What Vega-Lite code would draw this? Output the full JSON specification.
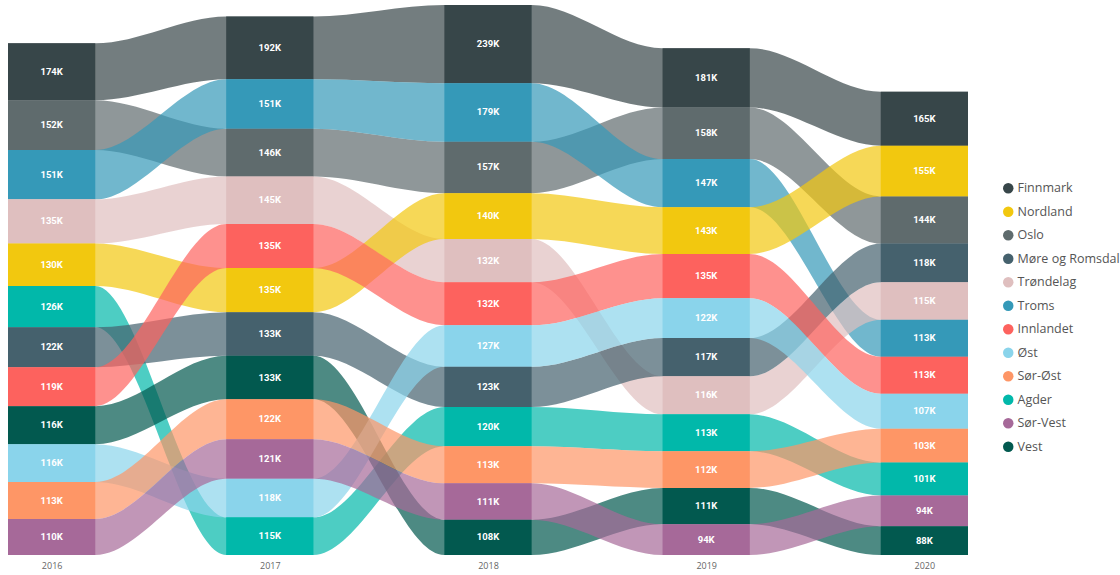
{
  "$schema": "https://vega.github.io/schema/vega-lite/v6.json",
  "width": 960,
  "height": 550,
  "autosize": {"type": "none"},
  "padding": {"left": 8, "top": 5, "right": 152, "bottom": 20},
  "background": "white",
  "config": {"view": {"stroke": null}, "font": "Open Sans"},
  "data": {
    "values": [
      {"year": 2016, "region": "Finnmark", "value": 174},
      {"year": 2016, "region": "Oslo", "value": 152},
      {"year": 2016, "region": "Troms", "value": 151},
      {"year": 2016, "region": "Trøndelag", "value": 135},
      {"year": 2016, "region": "Nordland", "value": 130},
      {"year": 2016, "region": "Agder", "value": 126},
      {"year": 2016, "region": "Møre og Romsdal", "value": 122},
      {"year": 2016, "region": "Innlandet", "value": 119},
      {"year": 2016, "region": "Vest", "value": 116.2},
      {"year": 2016, "region": "Øst", "value": 115.8},
      {"year": 2016, "region": "Sør-Øst", "value": 113},
      {"year": 2016, "region": "Sør-Vest", "value": 110},
      {"year": 2017, "region": "Finnmark", "value": 192},
      {"year": 2017, "region": "Troms", "value": 151},
      {"year": 2017, "region": "Oslo", "value": 146},
      {"year": 2017, "region": "Trøndelag", "value": 145},
      {"year": 2017, "region": "Innlandet", "value": 135.2},
      {"year": 2017, "region": "Nordland", "value": 134.8},
      {"year": 2017, "region": "Møre og Romsdal", "value": 133.2},
      {"year": 2017, "region": "Vest", "value": 132.8},
      {"year": 2017, "region": "Sør-Øst", "value": 122},
      {"year": 2017, "region": "Sør-Vest", "value": 121},
      {"year": 2017, "region": "Øst", "value": 118},
      {"year": 2017, "region": "Agder", "value": 115},
      {"year": 2018, "region": "Finnmark", "value": 239},
      {"year": 2018, "region": "Troms", "value": 179},
      {"year": 2018, "region": "Oslo", "value": 157},
      {"year": 2018, "region": "Nordland", "value": 140},
      {"year": 2018, "region": "Trøndelag", "value": 132.2},
      {"year": 2018, "region": "Innlandet", "value": 131.8},
      {"year": 2018, "region": "Øst", "value": 127},
      {"year": 2018, "region": "Møre og Romsdal", "value": 123},
      {"year": 2018, "region": "Agder", "value": 120},
      {"year": 2018, "region": "Sør-Øst", "value": 113},
      {"year": 2018, "region": "Sør-Vest", "value": 111},
      {"year": 2018, "region": "Vest", "value": 108},
      {"year": 2019, "region": "Finnmark", "value": 181},
      {"year": 2019, "region": "Oslo", "value": 158},
      {"year": 2019, "region": "Troms", "value": 147},
      {"year": 2019, "region": "Nordland", "value": 143},
      {"year": 2019, "region": "Innlandet", "value": 135},
      {"year": 2019, "region": "Øst", "value": 122},
      {"year": 2019, "region": "Møre og Romsdal", "value": 117},
      {"year": 2019, "region": "Trøndelag", "value": 116},
      {"year": 2019, "region": "Agder", "value": 113},
      {"year": 2019, "region": "Sør-Øst", "value": 112},
      {"year": 2019, "region": "Vest", "value": 111},
      {"year": 2019, "region": "Sør-Vest", "value": 94},
      {"year": 2020, "region": "Finnmark", "value": 165},
      {"year": 2020, "region": "Nordland", "value": 155},
      {"year": 2020, "region": "Oslo", "value": 144},
      {"year": 2020, "region": "Møre og Romsdal", "value": 118},
      {"year": 2020, "region": "Trøndelag", "value": 115},
      {"year": 2020, "region": "Troms", "value": 113.2},
      {"year": 2020, "region": "Innlandet", "value": 112.8},
      {"year": 2020, "region": "Øst", "value": 107},
      {"year": 2020, "region": "Sør-Øst", "value": 103},
      {"year": 2020, "region": "Agder", "value": 101},
      {"year": 2020, "region": "Sør-Vest", "value": 94},
      {"year": 2020, "region": "Vest", "value": 88}
    ]
  },
  "transform": [
    {"stack": "value", "groupby": ["year"], "sort": [{"field": "value", "order": "ascending"}], "as": ["y0", "y1"]},
    {"calculate": "datum.year - 0.2", "as": "xl"},
    {"calculate": "datum.year + 0.2", "as": "xr"}
  ],
  "resolve": {"legend": {"color": "independent"}},
  "layer": [
    {
      "transform": [
        {"fold": ["xl", "xr"], "as": ["side", "xe"]}
      ],
      "mark": {"type": "area", "interpolate": "monotone", "opacity": 0.7},
      "encoding": {
        "x": {"field": "xe", "type": "quantitative", "scale": {"domain": [2015.8, 2020.2], "nice": false, "zero": false}},
        "y": {"field": "y1", "type": "quantitative", "scale": {"domain": [0, 1681], "nice": false}, "axis": null, "stack": null},
        "y2": {"field": "y0"},
        "color": {
          "field": "region", "type": "nominal",
          "scale": {
            "domain": ["Finnmark", "Nordland", "Oslo", "Møre og Romsdal", "Trøndelag", "Troms", "Innlandet", "Øst", "Sør-Øst", "Agder", "Sør-Vest", "Vest"],
            "range": ["#374649", "#F2C80F", "#5F6B6D", "#45616D", "#DFBFBF", "#3599B8", "#FD625E", "#8AD4EB", "#FE9666", "#01B8AA", "#A66999", "#02594F"]
          },
          "legend": null
        }
      }
    },
    {
      "mark": {"type": "rect"},
      "encoding": {
        "x": {"field": "xl", "type": "quantitative",
          "axis": {"values": [2016, 2017, 2018, 2019, 2020], "format": "d", "title": null, "domain": false, "ticks": false, "grid": false, "labelFontSize": 9, "labelColor": "#666666", "labelPadding": 6}},
        "x2": {"field": "xr"},
        "y": {"field": "y1", "type": "quantitative", "stack": null},
        "y2": {"field": "y0"},
        "color": {
          "field": "region", "type": "nominal",
          "legend": {
            "orient": "none", "legendX": 994, "legendY": 177, "title": null,
            "symbolType": "circle", "symbolSize": 110, "symbolOpacity": 1, "symbolStrokeWidth": 0,
            "labelFontSize": 12.5, "labelColor": "#555555", "labelOffset": 3, "rowPadding": 10.5
          }
        }
      }
    },
    {
      "transform": [
        {"calculate": "(datum.y0 + datum.y1) / 2", "as": "mid"},
        {"calculate": "format(datum.value, '.0f') + 'K'", "as": "label"}
      ],
      "mark": {"type": "text", "color": "white", "fontSize": 9.5, "fontWeight": "bold", "font": "Roboto"},
      "encoding": {
        "x": {"field": "year", "type": "quantitative"},
        "y": {"field": "mid", "type": "quantitative"},
        "text": {"field": "label"}
      }
    }
  ]
}
